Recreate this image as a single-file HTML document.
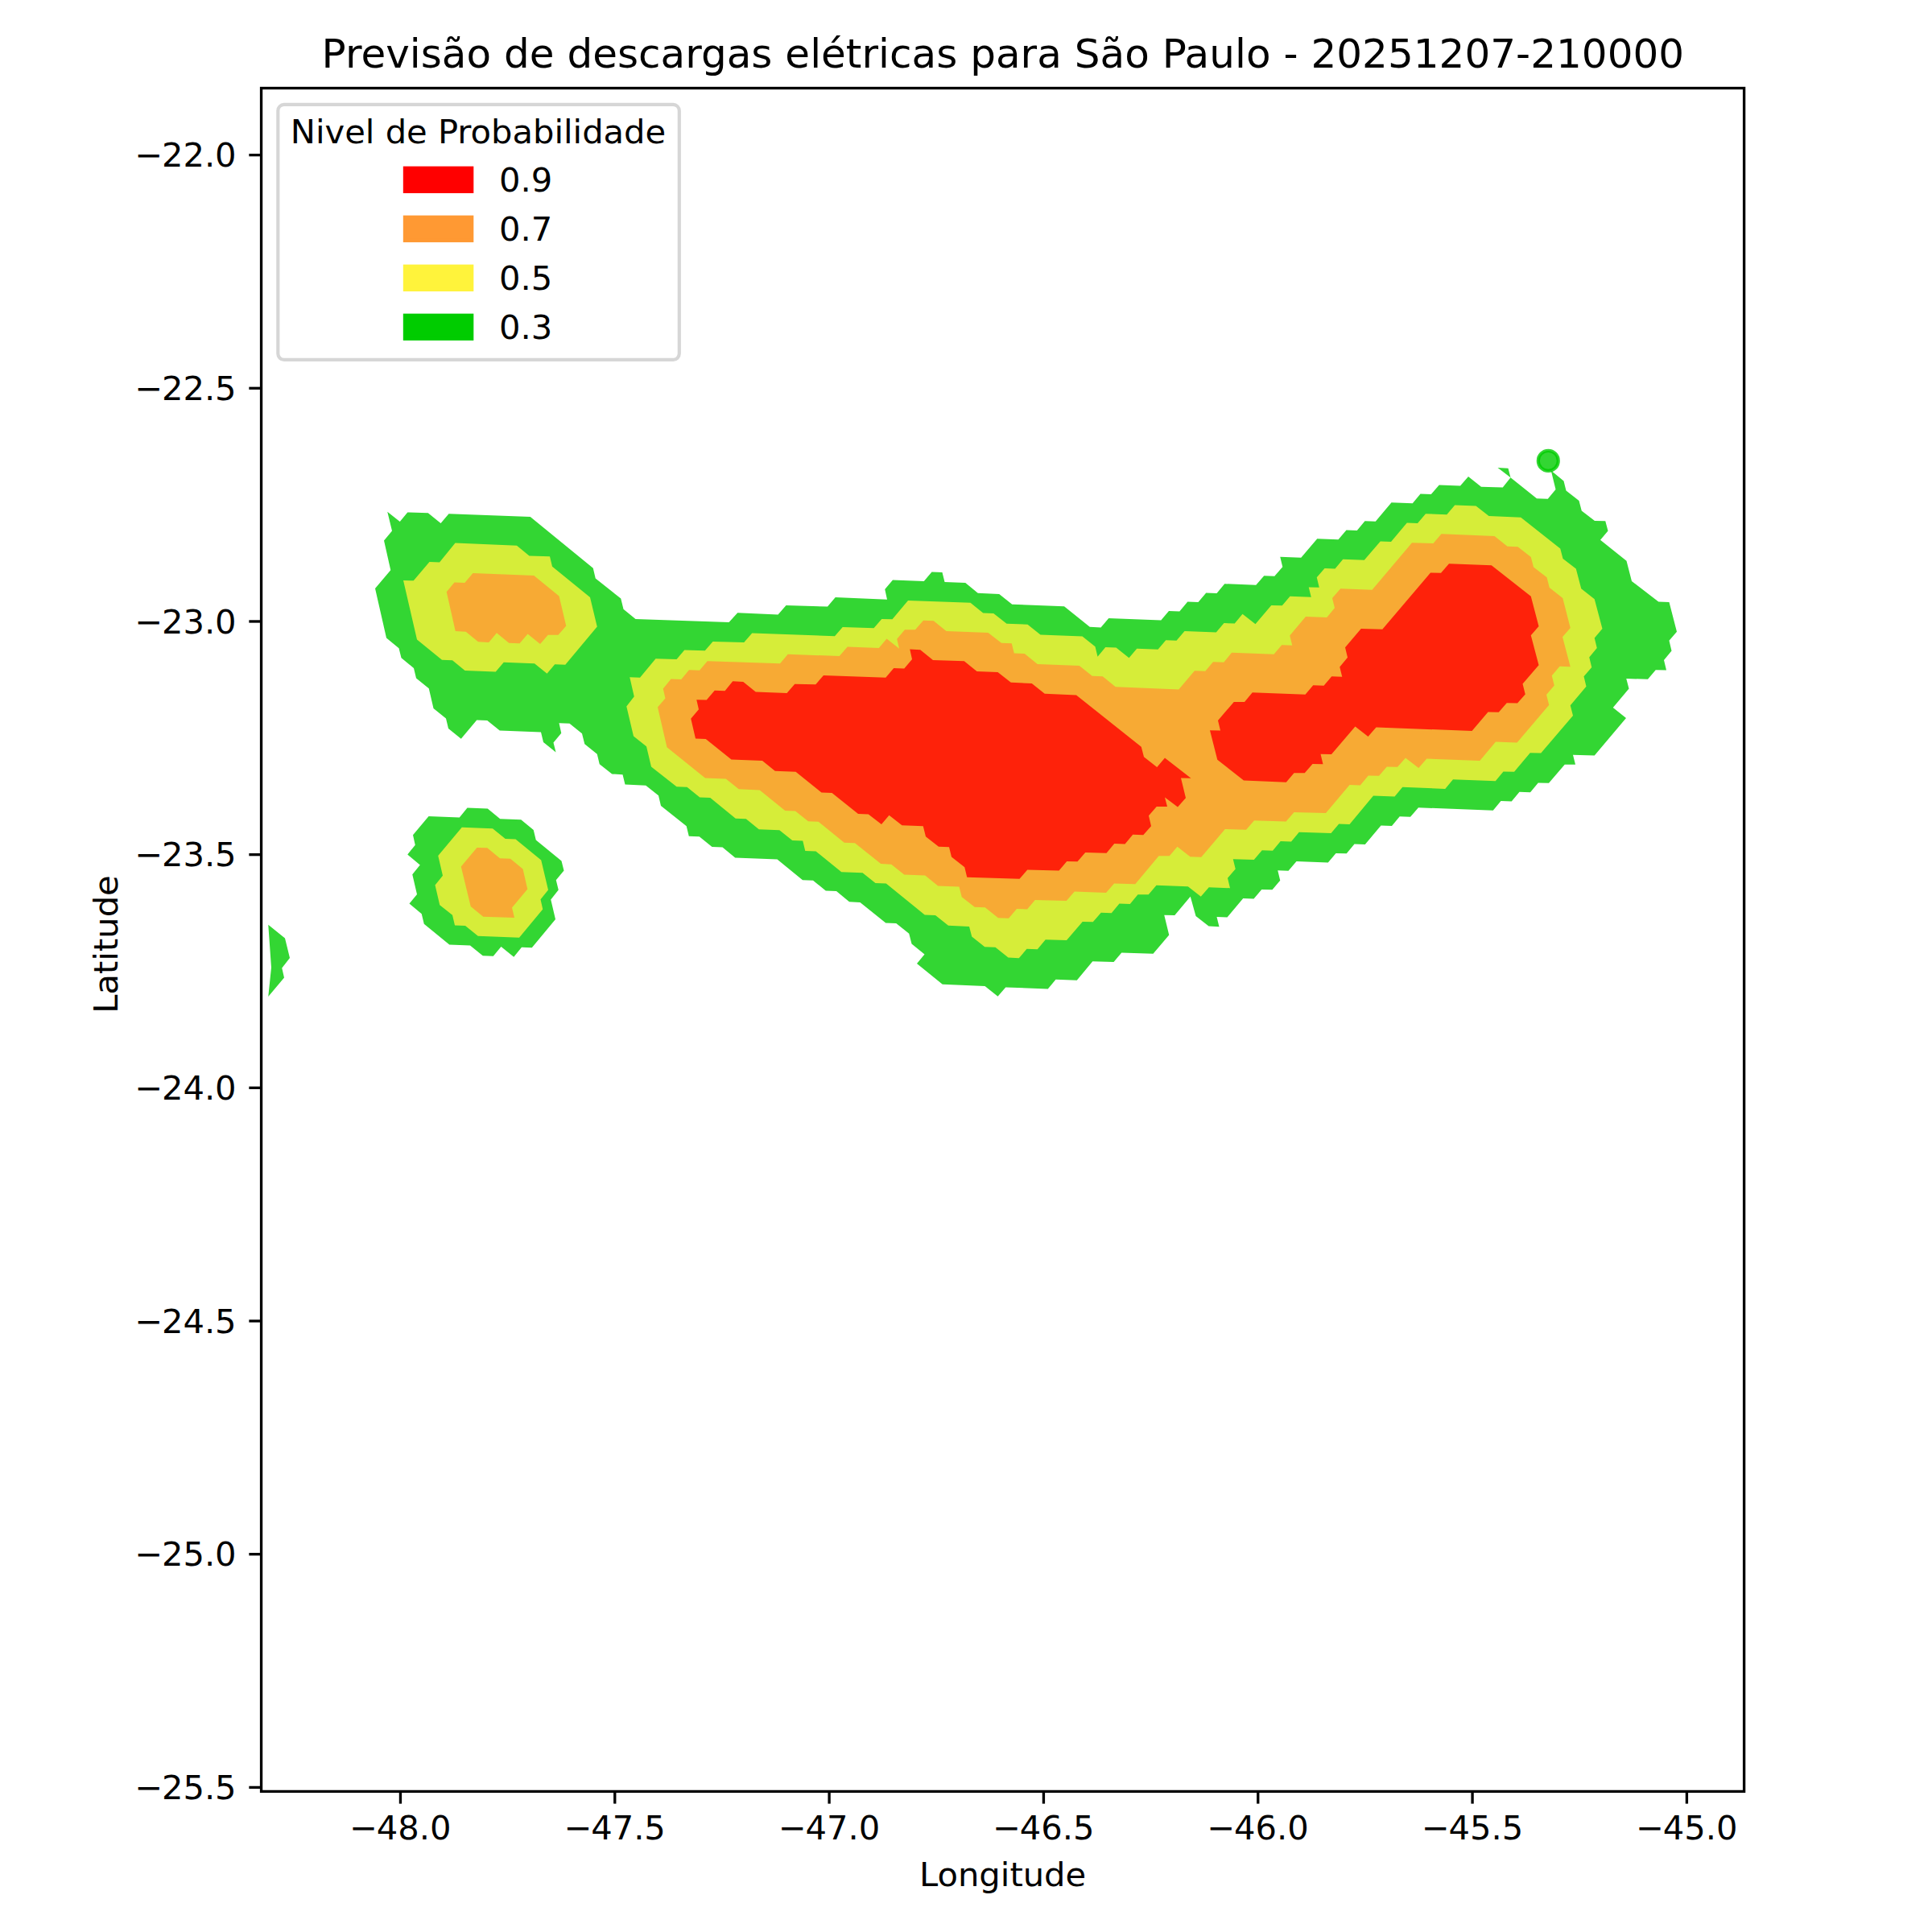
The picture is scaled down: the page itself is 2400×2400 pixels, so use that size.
<!DOCTYPE html>
<html lang="pt-BR">
<head>
<meta charset="utf-8">
<title>Previsão de descargas elétricas para São Paulo - 20251207-210000</title>
<style>
html,body{margin:0;padding:0;background:#fff;}
body{width:2400px;height:2400px;overflow:hidden;}
svg{display:block;}
svg text{font-family:"DejaVu Sans","Liberation Sans",sans-serif;fill:#000;}
</style>
</head>
<body>
<svg width="2400" height="2400" viewBox="0 0 2400 2400">
<rect x="0" y="0" width="2400" height="2400" fill="#ffffff"/>
<defs><clipPath id="axclip"><rect x="324.55" y="109.50" width="1842.05" height="2115.90"/></clipPath></defs>
<g clip-path="url(#axclip)" stroke="none">
<path id="nivel-0.3" fill="#00cc00" fill-opacity="0.8" fill-rule="nonzero" d="M481.25 635.75 L496.75 648.00 L506.25 636.50 L531.75 637.25 L547.50 650.00 L557.50 638.25 L658.75 642.00 L736.75 705.75 L739.75 718.50 L771.25 743.50 L774.50 756.75 L789.50 769.00 L905.50 773.00 L916.25 761.25 L966.50 763.50 L976.50 752.00 L1028.00 753.50 L1037.75 742.00 L1102.00 744.75 L1099.25 732.00 L1109.00 720.50 L1147.75 722.00 L1157.50 710.50 L1170.50 711.00 L1173.50 723.00 L1199.25 724.00 L1214.75 736.75 L1241.25 738.00 L1257.25 750.75 L1322.00 753.25 L1353.75 778.75 L1367.50 779.50 L1377.25 768.00 L1442.25 770.50 L1452.00 759.00 L1465.25 759.50 L1475.25 747.50 L1488.50 748.00 L1498.25 736.50 L1511.50 737.00 L1521.25 725.25 L1560.25 726.75 L1570.25 715.25 L1583.25 715.75 L1593.25 704.25 L1590.25 691.75 L1616.25 692.75 L1636.25 669.25 L1662.50 670.25 L1672.50 658.50 L1685.75 659.00 L1695.50 647.25 L1708.75 647.75 L1728.50 624.25 L1754.75 625.25 L1764.50 613.50 L1777.75 614.00 L1787.75 602.50 L1814.00 603.50 L1824.00 592.00 L1840.00 604.75 L1866.75 605.50 L1876.50 593.25 L1873.50 581.75 L1860.50 581.00 L1876.50 593.25 L1909.00 619.25 L1922.75 619.75 L1932.50 608.00 L1926.75 584.50 L1942.50 597.50 L1945.50 609.50 L1961.50 622.00 L1964.75 634.50 L1981.00 647.00 L1994.25 647.25 L1997.50 659.50 L1988.00 670.75 L2020.50 696.75 L2027.00 722.00 L2060.25 747.50 L2073.50 748.00 L2083.00 784.75 L2073.50 795.75 L2076.50 808.50 L2067.00 820.00 L2070.00 832.50 L2056.75 832.25 L2047.00 843.75 L2020.25 843.00 L2023.50 855.50 L2003.75 879.00 L2020.00 892.00 L1980.75 938.50 L1954.00 937.75 L1957.00 949.75 L1943.75 949.75 L1924.00 972.75 L1910.75 972.50 L1901.00 984.25 L1887.50 983.75 L1877.75 995.50 L1864.50 995.00 L1854.75 1006.75 L1762.00 1003.25 L1752.00 1014.75 L1738.75 1014.25 L1729.00 1026.00 L1715.50 1025.50 L1695.75 1049.00 L1682.50 1048.50 L1672.75 1060.25 L1659.50 1060.00 L1649.75 1071.50 L1610.50 1070.00 L1600.50 1081.75 L1587.25 1081.25 L1590.25 1093.75 L1580.50 1105.25 L1567.25 1105.00 L1557.50 1116.50 L1544.25 1116.00 L1524.50 1139.50 L1511.50 1139.00 L1514.50 1151.25 L1501.50 1150.50 L1485.50 1138.00 L1478.75 1113.75 L1459.25 1137.00 L1446.25 1136.75 L1452.25 1161.50 L1432.50 1184.75 L1393.25 1183.50 L1383.50 1195.00 L1357.25 1194.25 L1337.75 1217.75 L1311.50 1216.75 L1301.75 1228.50 L1249.25 1226.50 L1239.50 1237.75 L1223.50 1225.00 L1170.75 1222.75 L1139.00 1197.00 L1148.50 1185.50 L1132.50 1172.50 L1129.25 1159.75 L1113.25 1147.00 L1100.25 1146.50 L1068.50 1121.00 L1055.00 1120.25 L1039.00 1107.00 L1025.75 1106.50 L1010.00 1093.75 L997.00 1093.25 L965.50 1067.50 L913.25 1065.50 L897.50 1052.50 L884.50 1052.00 L868.75 1039.25 L855.75 1038.75 L852.75 1026.25 L821.00 1001.00 L818.00 988.25 L802.25 975.75 L776.50 974.50 L773.50 962.25 L760.25 961.50 L744.75 949.25 L741.75 936.75 L726.25 924.25 L723.00 911.25 L707.50 898.75 L694.50 898.25 L697.25 910.75 L687.50 922.50 L690.50 934.50 L675.00 922.00 L672.00 909.50 L620.75 907.50 L605.25 895.00 L592.25 894.50 L572.75 917.75 L557.00 905.00 L554.00 892.50 L538.50 880.00 L532.75 855.25 L517.00 842.50 L514.00 830.00 L498.50 817.25 L495.50 805.25 L480.00 792.50 L466.00 731.00 L485.25 708.25 L477.00 671.50 L487.00 659.50 Z M580.50 1003.50 L605.75 1004.50 L621.25 1017.25 L647.25 1018.25 L662.75 1031.00 L665.75 1043.50 L697.50 1069.50 L700.50 1081.50 L690.75 1093.25 L693.75 1105.50 L684.25 1117.50 L690.00 1142.00 L660.75 1177.25 L648.00 1176.75 L638.25 1188.75 L622.50 1176.00 L612.75 1187.75 L599.75 1187.25 L584.00 1174.50 L558.25 1173.50 L526.75 1147.75 L523.75 1135.25 L508.50 1122.50 L518.00 1111.00 L512.25 1086.25 L521.75 1074.50 L506.25 1061.50 L515.75 1049.75 L513.00 1037.25 L532.50 1014.00 L570.75 1015.50 Z M333.25 1148.75 L354.00 1165.50 L360.00 1190.00 L350.25 1202.50 L353.00 1214.50 L333.25 1238.00 L337.00 1202.00 Z"/>
<circle cx="1923.3" cy="572.4" r="12.5" fill="#00cc00" fill-opacity="0.8" stroke="#00cc00" stroke-opacity="0.8" stroke-width="4.17"/>
<path id="nivel-0.5" fill="#fff33b" fill-opacity="0.8" fill-rule="nonzero" d="M782.25 841.25 L795.00 841.75 L814.50 818.25 L840.50 819.00 L850.25 807.50 L875.75 808.25 L885.50 797.00 L924.25 798.00 L934.25 786.50 L1037.00 790.25 L1046.75 779.00 L1085.50 780.25 L1095.25 769.00 L1108.50 769.25 L1128.00 746.00 L1205.50 748.75 L1221.25 761.50 L1234.25 762.00 L1250.50 774.75 L1276.50 775.75 L1292.50 788.50 L1344.50 790.50 L1360.50 803.25 L1363.50 815.75 L1373.25 804.00 L1386.50 804.50 L1402.50 817.25 L1412.25 805.75 L1438.50 806.75 L1448.25 795.25 L1461.50 795.75 L1471.50 784.00 L1510.75 785.50 L1520.50 774.00 L1533.75 774.50 L1543.50 762.75 L1559.50 775.25 L1579.25 752.00 L1592.75 752.25 L1602.50 740.75 L1628.75 741.75 L1625.75 729.50 L1638.75 729.75 L1635.75 717.25 L1645.50 706.00 L1658.50 706.50 L1668.25 694.75 L1694.75 695.75 L1714.75 672.50 L1728.00 673.00 L1747.75 649.50 L1761.00 650.00 L1771.00 638.25 L1797.25 639.25 L1807.25 627.50 L1833.50 628.50 L1849.50 641.00 L1889.25 642.75 L1938.25 681.50 L1941.50 694.00 L1957.75 706.50 L1964.25 731.25 L1980.75 744.25 L1990.50 781.00 L1980.75 792.50 L1983.75 805.00 L1974.25 816.50 L1977.25 829.00 L1967.50 840.25 L1970.50 852.75 L1950.75 876.25 L1954.00 889.00 L1914.25 935.50 L1900.75 935.25 L1881.00 958.75 L1867.50 958.50 L1857.75 970.25 L1805.00 968.25 L1795.25 980.00 L1742.25 977.75 L1732.50 989.50 L1706.00 988.50 L1676.50 1024.00 L1663.25 1023.50 L1653.50 1035.00 L1613.75 1033.75 L1604.00 1045.50 L1590.75 1045.00 L1581.00 1056.75 L1567.75 1056.25 L1557.75 1068.00 L1531.75 1067.25 L1534.75 1079.50 L1525.00 1090.75 L1528.00 1103.25 L1501.75 1102.25 L1491.75 1113.75 L1475.75 1101.25 L1436.50 1099.75 L1426.75 1111.25 L1413.50 1111.25 L1403.75 1123.00 L1390.50 1122.50 L1380.75 1134.25 L1367.75 1133.75 L1357.75 1145.25 L1344.75 1145.00 L1325.00 1168.00 L1298.75 1167.25 L1288.75 1179.25 L1275.50 1178.75 L1265.75 1190.25 L1252.50 1189.50 L1236.50 1176.75 L1223.25 1176.25 L1207.25 1163.50 L1204.00 1151.00 L1178.00 1149.75 L1162.00 1137.00 L1148.75 1136.50 L1100.75 1097.50 L1087.50 1097.00 L1071.50 1084.25 L1045.25 1083.25 L1013.50 1057.50 L1000.25 1057.00 L997.25 1044.50 L984.25 1044.00 L968.25 1031.25 L942.75 1030.25 L926.75 1017.25 L913.75 1016.75 L882.25 991.00 L869.25 990.50 L853.50 977.75 L840.50 977.25 L809.00 952.50 L803.00 927.25 L787.00 914.50 L778.25 877.50 L787.75 865.25 Z M565.50 674.50 L642.00 677.75 L657.50 690.50 L683.00 691.25 L686.00 703.75 L733.00 742.00 L741.75 778.50 L702.25 825.75 L689.25 825.25 L679.50 836.75 L664.00 824.25 L625.75 822.75 L615.75 834.50 L577.50 833.00 L562.00 820.25 L549.00 819.75 L518.00 794.50 L501.00 721.00 L513.75 721.25 L533.50 698.00 L546.00 698.50 Z M573.75 1027.75 L612.00 1029.25 L627.75 1042.00 L640.50 1042.50 L672.25 1068.50 L681.00 1105.50 L671.50 1117.25 L674.25 1129.50 L645.00 1164.75 L593.75 1162.75 L578.00 1150.00 L565.00 1149.50 L562.00 1136.75 L546.25 1124.25 L540.50 1099.50 L550.00 1087.75 L544.25 1063.00 Z"/>
<path id="nivel-0.7" fill="#ff9933" fill-opacity="0.8" fill-rule="nonzero" d="M823.75 855.50 L833.50 843.50 L846.25 844.00 L856.00 832.25 L869.00 832.75 L878.75 821.25 L969.00 824.25 L978.75 812.75 L1042.75 815.00 L1052.75 803.50 L1091.75 805.00 L1101.50 793.50 L1117.00 805.75 L1114.25 793.75 L1124.00 782.25 L1137.00 782.25 L1147.00 770.75 L1159.75 771.25 L1175.50 784.00 L1227.50 786.00 L1244.00 798.75 L1256.75 799.25 L1259.75 811.50 L1272.75 812.00 L1288.75 825.00 L1340.75 827.00 L1356.75 839.75 L1369.75 840.25 L1385.75 853.25 L1464.25 856.50 L1484.00 833.25 L1497.25 833.75 L1507.00 822.25 L1520.25 822.75 L1530.00 810.75 L1582.50 812.75 L1592.25 801.25 L1605.25 801.75 L1602.25 789.50 L1622.00 766.00 L1648.25 767.00 L1658.00 755.25 L1655.00 743.00 L1665.25 731.25 L1704.50 732.75 L1754.00 674.25 L1780.50 675.00 L1790.50 663.25 L1856.50 666.00 L1872.50 678.75 L1885.50 679.25 L1901.75 692.00 L1905.00 704.50 L1921.50 717.25 L1924.75 730.00 L1941.25 743.00 L1950.75 780.00 L1941.00 791.25 L1950.75 828.25 L1937.50 827.75 L1927.75 839.25 L1930.75 851.50 L1921.00 863.00 L1924.25 875.75 L1884.50 922.50 L1858.00 921.50 L1838.25 945.00 L1772.25 942.50 L1762.25 954.00 L1746.00 941.50 L1736.00 952.75 L1722.75 952.50 L1713.00 963.75 L1699.75 963.50 L1689.75 975.50 L1676.50 975.00 L1647.00 1010.00 L1607.50 1009.00 L1597.50 1020.50 L1558.00 1019.25 L1548.00 1030.75 L1521.75 1030.00 L1492.25 1064.75 L1478.50 1064.25 L1462.50 1051.75 L1452.75 1063.25 L1439.50 1063.25 L1410.25 1098.25 L1384.00 1097.50 L1374.00 1109.00 L1334.75 1107.50 L1324.75 1119.00 L1285.75 1118.00 L1276.00 1129.50 L1263.00 1129.00 L1253.00 1140.75 L1240.00 1140.25 L1223.75 1127.25 L1210.75 1126.75 L1194.75 1114.25 L1191.50 1101.50 L1165.25 1100.50 L1149.25 1087.50 L1123.25 1086.50 L1107.25 1073.75 L1094.25 1073.00 L1062.00 1047.25 L1048.75 1046.75 L1016.75 1020.75 L1004.00 1020.25 L988.00 1007.50 L975.25 1007.00 L943.75 981.50 L917.75 980.25 L901.75 967.50 L876.00 966.50 L828.50 928.25 L817.00 878.50 L826.50 867.50 Z M587.50 712.00 L663.25 715.00 L694.50 740.50 L703.25 777.50 L693.50 788.75 L680.75 788.75 L671.00 800.00 L655.50 787.50 L645.50 799.25 L632.25 798.75 L617.00 786.25 L607.25 798.00 L594.00 797.25 L578.75 784.75 L565.75 784.00 L554.75 735.25 L564.50 723.50 L577.25 724.00 Z M592.50 1053.00 L605.25 1053.25 L621.00 1066.25 L634.00 1066.75 L649.50 1079.50 L655.25 1104.50 L636.00 1127.50 L639.00 1140.00 L600.25 1138.75 L584.75 1126.00 L572.75 1076.50 Z"/>
<path id="nivel-0.9" fill="#ff0000" fill-opacity="0.8" fill-rule="nonzero" d="M865.25 869.25 L877.75 869.50 L887.75 857.75 L900.50 858.25 L910.25 846.25 L923.25 847.00 L938.75 859.50 L977.50 861.00 L987.25 849.75 L1013.25 850.25 L1023.00 839.00 L1100.25 841.75 L1110.25 830.00 L1123.25 830.50 L1133.00 819.00 L1130.25 806.50 L1143.25 807.25 L1159.00 820.00 L1197.75 821.25 L1213.50 834.00 L1239.50 835.00 L1255.75 847.75 L1281.75 849.00 L1297.75 861.75 L1337.00 863.50 L1417.75 927.75 L1421.00 940.25 L1437.25 953.00 L1447.00 941.50 L1479.50 966.75 L1467.00 966.50 L1473.00 991.25 L1463.00 1002.50 L1447.00 990.50 L1450.00 1002.00 L1436.75 1002.00 L1427.00 1013.25 L1430.00 1026.25 L1420.25 1037.25 L1407.25 1036.75 L1397.50 1048.50 L1384.25 1048.00 L1374.50 1059.75 L1348.25 1059.00 L1338.50 1070.25 L1325.25 1070.00 L1315.50 1081.50 L1276.25 1080.50 L1266.50 1091.75 L1201.25 1089.75 L1198.25 1077.25 L1182.00 1064.50 L1179.00 1052.25 L1166.00 1051.75 L1150.00 1039.25 L1146.75 1026.25 L1120.50 1025.25 L1104.50 1012.75 L1095.00 1024.00 L1078.75 1011.50 L1066.00 1011.00 L1033.50 985.00 L1020.50 984.50 L988.50 958.75 L962.75 957.75 L947.00 945.00 L908.50 943.50 L876.75 918.00 L864.00 917.50 L858.25 892.75 L868.00 881.25 Z M1503.00 907.25 L1516.00 907.50 L1513.00 895.00 L1532.75 872.00 L1546.00 872.00 L1555.75 860.25 L1621.50 862.75 L1631.25 851.25 L1644.50 851.75 L1654.25 840.25 L1667.25 840.75 L1664.25 828.50 L1674.00 816.75 L1671.00 804.25 L1690.75 781.00 L1717.25 781.75 L1777.00 711.50 L1790.00 711.75 L1800.00 700.25 L1852.75 702.25 L1901.75 740.75 L1911.50 778.00 L1901.75 789.25 L1911.50 826.25 L1891.50 849.50 L1894.75 862.50 L1885.00 873.50 L1871.75 873.25 L1861.75 884.75 L1848.50 884.50 L1828.50 908.00 L1709.50 903.50 L1699.50 915.00 L1683.50 902.50 L1654.00 937.00 L1640.50 936.75 L1643.50 949.25 L1630.50 949.00 L1620.75 960.25 L1607.50 960.25 L1597.75 971.75 L1545.00 969.50 L1512.25 943.75 Z"/>
</g>
<rect x="324.55" y="109.50" width="1842.05" height="2115.90" fill="none" stroke="#000" stroke-width="3.333" stroke-linejoin="miter"/>
<g stroke="#000" stroke-width="3.333" stroke-linecap="butt">
<line x1="497.45" y1="2225.40" x2="497.45" y2="2240.60"/>
<line x1="763.77" y1="2225.40" x2="763.77" y2="2240.60"/>
<line x1="1030.10" y1="2225.40" x2="1030.10" y2="2240.60"/>
<line x1="1296.42" y1="2225.40" x2="1296.42" y2="2240.60"/>
<line x1="1562.75" y1="2225.40" x2="1562.75" y2="2240.60"/>
<line x1="1829.08" y1="2225.40" x2="1829.08" y2="2240.60"/>
<line x1="2095.40" y1="2225.40" x2="2095.40" y2="2240.60"/>
<line x1="309.35" y1="192.60" x2="324.55" y2="192.60"/>
<line x1="309.35" y1="482.28" x2="324.55" y2="482.28"/>
<line x1="309.35" y1="771.97" x2="324.55" y2="771.97"/>
<line x1="309.35" y1="1061.65" x2="324.55" y2="1061.65"/>
<line x1="309.35" y1="1351.34" x2="324.55" y2="1351.34"/>
<line x1="309.35" y1="1641.02" x2="324.55" y2="1641.02"/>
<line x1="309.35" y1="1930.71" x2="324.55" y2="1930.71"/>
<line x1="309.35" y1="2220.39" x2="324.55" y2="2220.39"/>
</g>
<g font-size="41.667">
<text x="497.45" y="2285.40" text-anchor="middle">−<tspan dx="-1.4">48.0</tspan></text>
<text x="763.77" y="2285.40" text-anchor="middle">−<tspan dx="-1.4">47.5</tspan></text>
<text x="1030.10" y="2285.40" text-anchor="middle">−<tspan dx="-1.4">47.0</tspan></text>
<text x="1296.42" y="2285.40" text-anchor="middle">−<tspan dx="-1.4">46.5</tspan></text>
<text x="1562.75" y="2285.40" text-anchor="middle">−<tspan dx="-1.4">46.0</tspan></text>
<text x="1829.08" y="2285.40" text-anchor="middle">−<tspan dx="-1.4">45.5</tspan></text>
<text x="2095.40" y="2285.40" text-anchor="middle">−<tspan dx="-1.4">45.0</tspan></text>
<text x="293.65" y="207.33" text-anchor="end">−<tspan dx="-1.4">22.0</tspan></text>
<text x="293.65" y="497.01" text-anchor="end">−<tspan dx="-1.4">22.5</tspan></text>
<text x="293.65" y="786.70" text-anchor="end">−<tspan dx="-1.4">23.0</tspan></text>
<text x="293.65" y="1076.38" text-anchor="end">−<tspan dx="-1.4">23.5</tspan></text>
<text x="293.65" y="1366.07" text-anchor="end">−<tspan dx="-1.4">24.0</tspan></text>
<text x="293.65" y="1655.75" text-anchor="end">−<tspan dx="-1.4">24.5</tspan></text>
<text x="293.65" y="1945.44" text-anchor="end">−<tspan dx="-1.4">25.0</tspan></text>
<text x="293.65" y="2235.12" text-anchor="end">−<tspan dx="-1.4">25.5</tspan></text>
<text x="1245.6" y="2343.2" text-anchor="middle">Longitude</text>
<text x="145.9" y="1173" text-anchor="middle" transform="rotate(-90 145.9 1173)">Latitude</text>
</g>
<text x="1245.9" y="83.5" font-size="50" letter-spacing="0.024" text-anchor="middle">Previsão de descargas elétricas para São Paulo - 20251207-210000</text>
<rect x="345.30" y="129.95" width="498.50" height="316.90" rx="7.5" ry="7.5" fill="#ffffff" fill-opacity="0.8" stroke="#cccccc" stroke-opacity="0.8" stroke-width="4.167"/>
<g font-size="41.667">
<text x="360.8" y="178.2">Nivel de Probabilidade</text>
<rect x="502.9" y="208.70" width="83.33" height="29.17" fill="#ff0000" stroke="#ff0000" stroke-width="4.167" stroke-linejoin="miter"/>
<text x="620.1" y="238.00">0.9</text>
<rect x="502.9" y="269.70" width="83.33" height="29.17" fill="#ff9933" stroke="#ff9933" stroke-width="4.167" stroke-linejoin="miter"/>
<text x="620.1" y="299.00">0.7</text>
<rect x="502.9" y="330.70" width="83.33" height="29.17" fill="#fff33b" stroke="#fff33b" stroke-width="4.167" stroke-linejoin="miter"/>
<text x="620.1" y="360.00">0.5</text>
<rect x="502.9" y="391.70" width="83.33" height="29.17" fill="#00cc00" stroke="#00cc00" stroke-width="4.167" stroke-linejoin="miter"/>
<text x="620.1" y="421.00">0.3</text>
</g>
</svg>
</body>
</html>
